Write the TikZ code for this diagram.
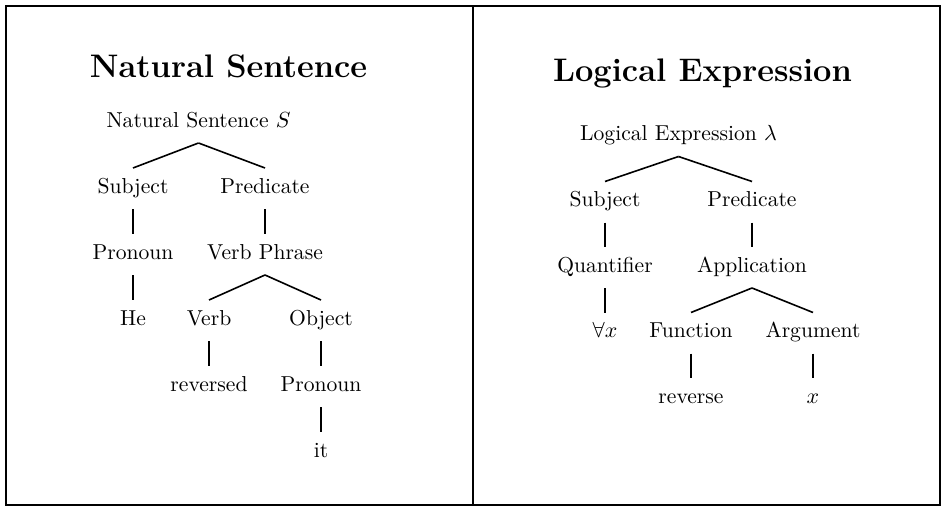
\documentclass[tikz,border=0pt]{standalone}
\tikzset{
  lbl/.style={font=\fontsize{10.8}{13}\selectfont, anchor=base, inner sep=3pt, outer sep=0pt, text height=9.5pt, text depth=5pt},
  ttl/.style={font=\fontsize{16.3}{20}\selectfont\bfseries, anchor=base, inner sep=0pt},
  branch/.style={line width=0.8pt},
  panel/.style={line width=1pt}
}
\begin{document}
\begin{tikzpicture}[x=0.5pt,y=-0.5pt]
\useasboundingbox (0,0) rectangle (943,508);
\draw[panel] (6,6) rectangle (473,505);
\draw[panel] (473,6) rectangle (940,505);
% left tree
\node[ttl] (tN) at (228.5,78) {Natural Sentence};
\node[lbl] (nS) at (198.5,127) {Natural Sentence $S$};
\node[lbl] (nSub) at (133,193) {Subject};
\node[lbl] (nPred) at (265,193) {Predicate};
\node[lbl] (nPro) at (133,259) {Pronoun};
\node[lbl] (nVP) at (265,259) {Verb Phrase};
\node[lbl] (nHe) at (133,325) {He};
\node[lbl] (nV) at (209,325) {Verb};
\node[lbl] (nObj) at (321,325) {Object};
\node[lbl] (nRev) at (209,391) {reversed};
\node[lbl] (nPro2) at (321,391) {Pronoun};
\node[lbl] (nIt) at (321,457) {it};
\draw[branch] (nS.south) -- (nSub.north);
\draw[branch] (nS.south) -- (nPred.north);
\draw[branch] (nSub.south) -- (nPro.north);
\draw[branch] (nPred.south) -- (nVP.north);
\draw[branch] (nPro.south) -- (nHe.north);
\draw[branch] (nVP.south) -- (nV.north);
\draw[branch] (nVP.south) -- (nObj.north);
\draw[branch] (nV.south) -- (nRev.north);
\draw[branch] (nObj.south) -- (nPro2.north);
\draw[branch] (nPro2.south) -- (nIt.north);
% right tree
\node[ttl] (tL) at (702.5,82) {Logical Expression};
\node[lbl] (lE) at (678.5,140.5) {Logical Expression $\lambda$};
\node[lbl] (lSub) at (605,206.5) {Subject};
\node[lbl] (lPred) at (752,206.5) {Predicate};
\node[lbl] (lQ) at (605,272) {Quantifier};
\node[lbl] (lApp) at (752,272) {Application};
\node[lbl] (lAll) at (605,337.5) {$\forall x$};
\node[lbl] (lFun) at (691,337.5) {Function};
\node[lbl] (lArg) at (813,337.5) {Argument};
\node[lbl] (lRev) at (691,403) {reverse};
\node[lbl] (lX) at (813,403) {$x$};
\draw[branch] (lE.south) -- (lSub.north);
\draw[branch] (lE.south) -- (lPred.north);
\draw[branch] (lSub.south) -- (lQ.north);
\draw[branch] (lPred.south) -- (lApp.north);
\draw[branch] (lQ.south) -- (lAll.north);
\draw[branch] (lApp.south) -- (lFun.north);
\draw[branch] (lApp.south) -- (lArg.north);
\draw[branch] (lFun.south) -- (lRev.north);
\draw[branch] (lArg.south) -- (lX.north);
\end{tikzpicture}
\end{document}
